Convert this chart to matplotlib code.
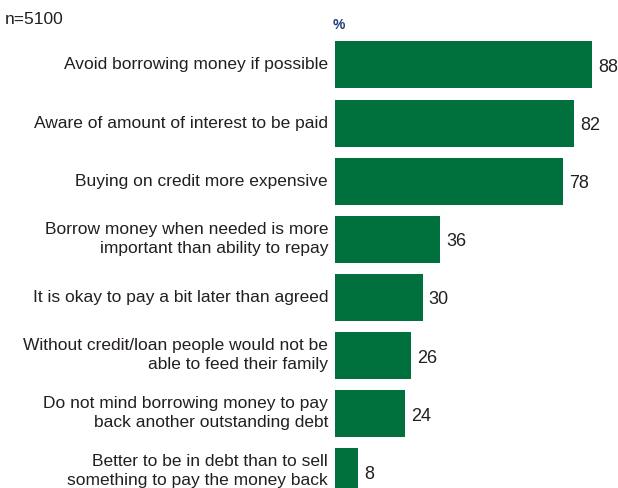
import matplotlib.pyplot as plt

labels = [
    "Avoid borrowing money if possible",
    "Aware of amount of interest to be paid",
    "Buying on credit more expensive",
    "Borrow money when needed is more\nimportant than ability to repay",
    "It is okay to pay a bit later than agreed",
    "Without credit/loan people would not be\nable to feed their family",
    "Do not mind borrowing money to pay\nback another outstanding debt",
    "Better to be in debt than to sell\nsomething to pay the money back",
]
values = [88, 82, 78, 36, 30, 26, 24, 8]

plt.rcParams["font.family"] = ["Liberation Sans Narrow", "Liberation Sans", "DejaVu Sans"]

fig = plt.figure(figsize=(6.18, 4.88), dpi=100)
ax = fig.add_axes([335 / 618, 0, 1 - 335 / 618, 1])

pos = list(range(len(values)))
ax.barh(pos, values, height=0.81, color="#00703c")
ax.set_xlim(0, 96.9)
ax.set_ylim(7.29, -1.12)
ax.axis("off")

for p, v, lab in zip(pos, values, labels):
    ax.text(v + 2.0, p + 0.05, str(v), va="center", ha="left", fontsize=13, color="#231f20")
    ax.annotate(lab, xy=(0, p), xytext=(-5, 0), textcoords="offset points",
                ha="right", va="center", fontsize=12.5, color="#231f20",
                linespacing=1.3, multialignment="right")

fig.text(5 / 618, 1 - 20 / 488, "n=5100", ha="left", va="center", fontsize=12.5, color="#231f20")
fig.text(333 / 618, 1 - 25 / 488, "%", ha="left", va="center", fontsize=10,
         fontweight="bold", color="#1f3f7a")

plt.savefig("out.png", dpi=100)
